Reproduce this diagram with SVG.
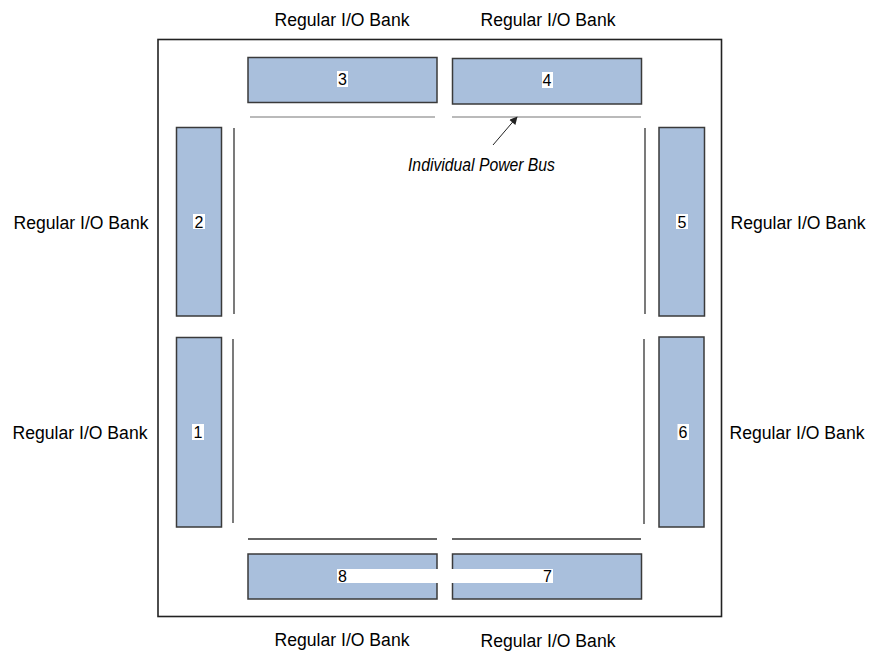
<svg xmlns="http://www.w3.org/2000/svg" width="870" height="654" viewBox="0 0 870 654">
<defs>
<style>
.bank{fill:#a9bfdc;stroke:#3a3a3a;stroke-width:1.5}
.num{font-family:"Liberation Sans",Arial,sans-serif;font-size:16px;fill:#000;text-anchor:middle}
.nbg{fill:#fff}
.lbl{font-family:"Liberation Sans",Arial,sans-serif;font-size:17.6px;fill:#000;text-anchor:middle}
.bus{stroke:#333;stroke-width:1.3;fill:none}
.bust{stroke:#777;stroke-width:1.2;fill:none}
</style>
<marker id="ah" viewBox="0 0 10 10" refX="9" refY="5" markerWidth="10" markerHeight="8" markerUnits="userSpaceOnUse" orient="auto">
<path d="M0,0 L10,5 L0,10 z" fill="#222"/>
</marker>
</defs>
<rect width="870" height="654" fill="#fff"/>
<rect id="frame" x="158" y="39.5" width="563.5" height="577" fill="none" stroke="#222" stroke-width="1.6"/>

<g id="buses">
<line class="bust" x1="250" y1="117" x2="435" y2="117"/>
<line class="bust" x1="452" y1="117" x2="641" y2="117"/>
<line class="bus" x1="248" y1="539" x2="437" y2="539"/>
<line class="bus" x1="452" y1="539" x2="641" y2="539"/>
<line class="bus" x1="234" y1="128" x2="234" y2="314"/>
<line class="bus" x1="233" y1="339" x2="233" y2="523"/>
<line class="bus" x1="645" y1="128" x2="645" y2="314"/>
<line class="bus" x1="644" y1="339" x2="644" y2="524"/>
</g>

<g id="bank3"><rect class="bank" x="248" y="57.5" width="189" height="45"/><rect class="nbg" x="337" y="71" width="11" height="16"/><text class="num" x="342.5" y="85">3</text></g>
<g id="bank4"><rect class="bank" x="452.5" y="58.5" width="189" height="45.5"/><rect class="nbg" x="542" y="72" width="11" height="16"/><text class="num" x="547" y="86">4</text></g>
<g id="bank2"><rect class="bank" x="176.5" y="127.5" width="45" height="188.5"/><rect class="nbg" x="193" y="214" width="12" height="15"/><text class="num" x="199" y="227.5">2</text></g>
<g id="bank1"><rect class="bank" x="176.5" y="337.5" width="45" height="189.5"/><rect class="nbg" x="192" y="424" width="12" height="16"/><text class="num" x="198" y="438">1</text></g>
<g id="bank5"><rect class="bank" x="659" y="127.5" width="45.5" height="188.5"/><rect class="nbg" x="676" y="214" width="12" height="15"/><text class="num" x="682" y="227.5">5</text></g>
<g id="bank6"><rect class="bank" x="659" y="337" width="45" height="190"/><rect class="nbg" x="677.5" y="424" width="11.5" height="16"/><text class="num" x="683" y="438">6</text></g>
<g id="bank8"><rect class="bank" x="248" y="554" width="189" height="45"/></g>
<g id="bank7"><rect class="bank" x="452.5" y="554" width="189" height="45"/></g>
<g id="bank78labels"><rect class="nbg" x="337" y="569" width="216" height="14"/><text class="num" x="342.5" y="582">8</text><text class="num" x="547.5" y="582">7</text></g>

<g id="connectors">
<line x1="493" y1="145" x2="517" y2="117" stroke="#222" stroke-width="1" marker-end="url(#ah)"/>
</g>
<text id="powerbus" x="408" y="171" font-family="'Liberation Sans',Arial,sans-serif" font-style="italic" font-size="18.5px" textLength="147" lengthAdjust="spacingAndGlyphs">Individual Power Bus</text>

<g id="labels">
<text class="lbl" x="342" y="26">Regular I/O Bank</text>
<text class="lbl" x="548" y="26">Regular I/O Bank</text>
<text class="lbl" x="81" y="229">Regular I/O Bank</text>
<text class="lbl" x="80" y="439">Regular I/O Bank</text>
<text class="lbl" x="798" y="229">Regular I/O Bank</text>
<text class="lbl" x="797" y="439">Regular I/O Bank</text>
<text class="lbl" x="342" y="646">Regular I/O Bank</text>
<text class="lbl" x="548" y="647">Regular I/O Bank</text>
</g>
</svg>
